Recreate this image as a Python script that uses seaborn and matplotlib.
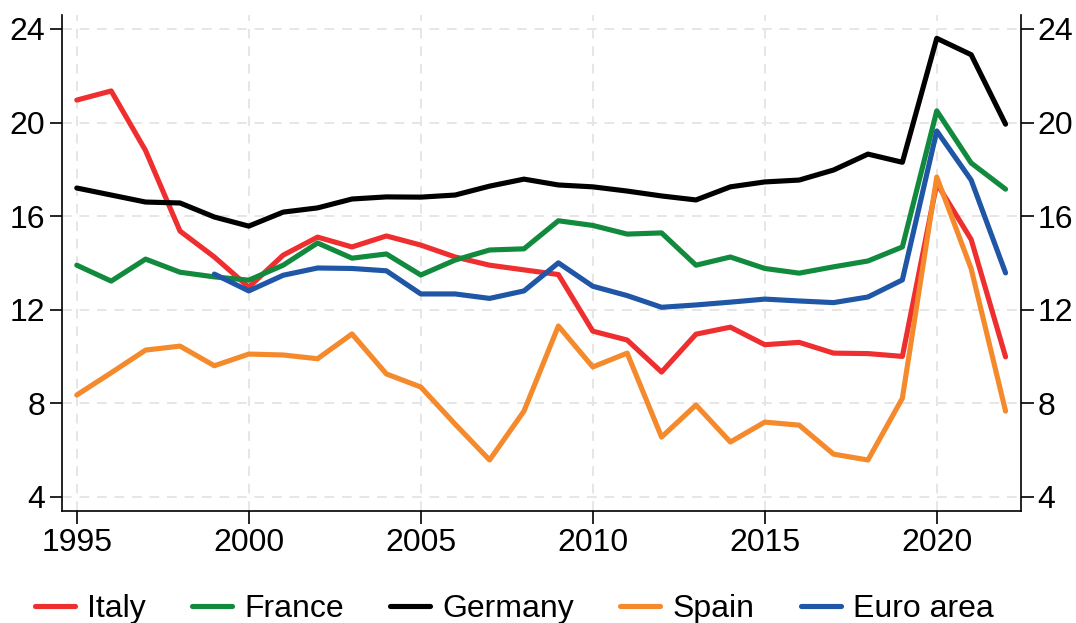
import numpy as np
import pandas as pd
import matplotlib
matplotlib.use("Agg")
import matplotlib.pyplot as plt
import seaborn as sns

years = list(range(1995, 2023))
italy = [20.96, 21.35, 18.8, 15.36, 14.25, 12.96, 14.33, 15.1, 14.68, 15.15,
         14.76, 14.25, 13.9, 13.7, 13.5, 11.08, 10.7, 9.33, 10.95, 11.25,
         10.5, 10.6, 10.14, 10.12, 10.0, 17.4, 15.0, 9.98]
france = [13.9, 13.22, 14.16, 13.6, 13.4, 13.26, 13.9, 14.85, 14.2, 14.38,
          13.48, 14.12, 14.55, 14.6, 15.8, 15.6, 15.23, 15.28, 13.9, 14.25,
          13.76, 13.56, 13.83, 14.08, 14.68, 20.5, 18.27, 17.15]
germany = [17.2, 16.9, 16.6, 16.56, 15.96, 15.57, 16.17, 16.35, 16.73, 16.82,
           16.81, 16.9, 17.28, 17.58, 17.33, 17.25, 17.07, 16.86, 16.69, 17.25,
           17.46, 17.54, 17.97, 18.65, 18.3, 23.6, 22.9, 19.93]
spain = [8.35, 9.3, 10.27, 10.44, 9.6, 10.1, 10.06, 9.9, 10.96, 9.25,
         8.69, 7.1, 5.57, 7.66, 11.3, 9.55, 10.14, 6.55, 7.92, 6.34,
         7.19, 7.06, 5.82, 5.57, 8.21, 17.67, 13.75, 7.66]
euro_area = [np.nan, np.nan, np.nan, np.nan, 13.52, 12.8, 13.47, 13.78, 13.76, 13.66,
             12.67, 12.67, 12.48, 12.8, 14.0, 13.0, 12.6, 12.1, 12.2, 12.32,
             12.45, 12.37, 12.3, 12.54, 13.27, 19.64, 17.54, 13.57]

series_names = ["Italy", "France", "Germany", "Spain", "Euro area"]
colors = ["#EE2E2F", "#128A3E", "#000000", "#F48A2C", "#1F56A6"]
yticks = [4, 8, 12, 16, 20, 24]
xticks = [1995, 2000, 2005, 2010, 2015, 2020]

frames = []
for name, vals in zip(series_names, [italy, france, germany, spain, euro_area]):
    frames.append(pd.DataFrame({"year": years, "value": vals, "series": name}))
df = pd.concat(frames, ignore_index=True).dropna()

sns.set_style("white")
plt.rcParams["font.family"] = ["Liberation Sans", "DejaVu Sans"]
plt.rcParams["text.color"] = "black"
plt.rcParams["axes.labelcolor"] = "black"
plt.rcParams["xtick.color"] = "black"
plt.rcParams["ytick.color"] = "black"

fig = plt.figure(figsize=(10.76, 6.23), dpi=100)
ax = fig.add_axes([0.0573, 0.1798, 0.8913, 0.7962])

sns.lineplot(data=df, x="year", y="value", hue="series", hue_order=series_names,
             palette=colors, linewidth=3.7, ax=ax, legend=True, sort=True)

ax.set_xlim(1994.56, 2022.44)
ax.set_ylim(3.39, 24.6)
ax.set_xticks(xticks)
ax.set_yticks(yticks)
ax.set_xlabel("")
ax.set_ylabel("")
ax.grid(True, color="#E6E6E6", linestyle=(0, (5, 4)), linewidth=1.4)
ax.set_axisbelow(True)

for s in ["left", "bottom", "right"]:
    ax.spines[s].set_visible(True)
    ax.spines[s].set_color("black")
    ax.spines[s].set_linewidth(1.2)
ax.spines["top"].set_visible(False)

ax.tick_params(axis="both", which="both", direction="out", labelsize=23,
               length=9, width=1.2, color="black", labelcolor="black")
ax.tick_params(axis="y", left=True, right=True, labelleft=True, labelright=True, pad=3)
ax.tick_params(axis="x", bottom=True, pad=3)

ax.get_legend().remove()
handles, labels = ax.get_legend_handles_labels()
leg = fig.legend(handles, labels, loc="center", bbox_to_anchor=(0.478, 0.022), ncol=5,
                 frameon=False, fontsize=23, handlelength=1.25, handletextpad=0.38,
                 columnspacing=1.45, borderaxespad=0)
for t in leg.get_texts():
    t.set_color("black")

fig.savefig("out.png", dpi=100)
